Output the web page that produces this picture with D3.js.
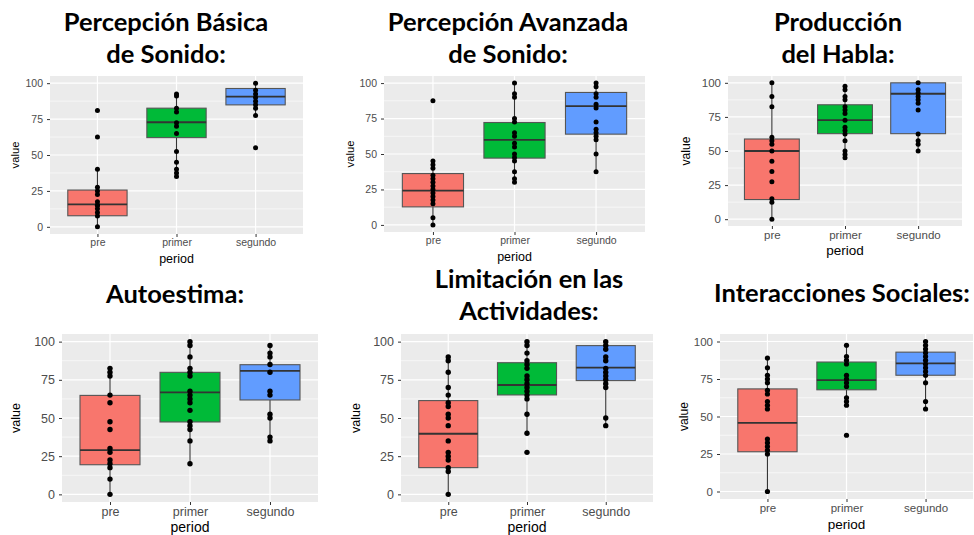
<!DOCTYPE html>
<html>
<head>
<meta charset="utf-8">
<script src="https://cdnjs.cloudflare.com/ajax/libs/d3/7.8.5/d3.min.js"></script>
<style>
body { margin: 0; background: #fff; }
svg { display: block; }
</style>
</head>
<body>
<svg id="chart" width="974" height="535"></svg>
<script>
var periods = ['pre', 'primer', 'segundo'];
var y_ticks = [0, 25, 50, 75, 100];
var y_minor = [12.5, 37.5, 62.5, 87.5];
var fills = ['#F8766D', '#00BA38', '#619CFF'];

var titles = [
    ['Percepción Básica', 'de Sonido:'],
    ['Percepción Avanzada', 'de Sonido:'],
    ['Producción', 'del Habla:'],
    ['Autoestima:'],
    ['Limitación en las', 'Actividades:'],
    ['Interacciones Sociales:']
];

// box stats per period: [whisker low, q1, median, q3, whisker high]
var basica_box = [[0, 7.7, 15.6, 25.6, 40], [35, 62.1, 72.8, 82.6, 92.5], [77.5, 84.9, 90.7, 96.3, 100]];
var avanzada_box = [[0, 12.7, 24.2, 36.2, 45], [30, 47.1, 60, 72.2, 100], [37.5, 64, 83.8, 93.4, 100]];
var habla_box = [[0, 14.4, 50, 58.8, 100], [45, 62.7, 72.7, 83.9, 97.5], [50, 62.7, 92, 100, 100]];
var autoestima_box = [[0, 19.4, 29, 64.8, 82.5], [20, 47.4, 66.8, 79.9, 100], [35, 61.8, 80.8, 84.9, 97.5]];
var limitacion_box = [[0, 17.5, 39.7, 61.4, 90], [40, 65.1, 71.6, 86.2, 100], [45, 74.5, 83, 97.4, 100]];
var sociales_box = [[0, 26.5, 45.7, 68.4, 89], [57.5, 67.8, 74.2, 86.3, 97.5], [55, 77.5, 85.4, 92.9, 100]];

// individual scores per period
var basica_pts = [
    [0, 7.5, 10, 12.5, 15, 15, 17.5, 22.5, 25, 27.5, 40, 62.5, 81],
    [35, 37.5, 40, 45, 52.5, 65, 70, 72.5, 80, 82.5, 91, 92.5],
    [55, 77.5, 82.5, 85, 87.5, 90, 92.5, 95, 100]
];
var avanzada_pts = [
    [0, 5, 15, 17.5, 20, 22.5, 25, 27.5, 30, 32.5, 35, 40, 42.5, 45, 87.5],
    [30, 32.5, 37.5, 45, 47.5, 50, 55, 57.5, 62.5, 65, 72.5, 75, 90, 92.5, 100],
    [37.5, 50, 60, 62.5, 65, 67.5, 72.5, 82.5, 85, 90, 92.5, 97.5, 100]
];
var habla_pts = [
    [0, 12.5, 15, 27.5, 35, 42.5, 50, 55, 57.5, 60, 82.5, 90, 100],
    [45, 47.5, 50, 57.5, 62.5, 65, 67.5, 72.5, 77.5, 80, 82.5, 87.5, 90, 95, 97.5],
    [50, 55, 57.5, 62.5, 80, 85, 87.5, 90, 92.5, 95, 100]
];
var autoestima_pts = [
    [0, 10, 17.5, 20, 22.5, 27.5, 30, 42.5, 47.5, 60, 65, 77.5, 80, 82.5],
    [20, 35, 42.5, 45, 47.5, 55, 60, 62.5, 65, 67.5, 77.5, 80, 82.5, 90, 97.5, 100],
    [35, 37.5, 50, 52.5, 65, 67.5, 80, 85, 90, 92.5, 97.5]
];
var limitacion_pts = [
    [0, 15, 17.5, 22.5, 25, 27.5, 35, 45, 50, 52.5, 57.5, 60, 65, 70, 80, 87.5, 90],
    [27.5, 40, 52.5, 62.5, 65, 67.5, 70, 72.5, 75, 77.5, 82.5, 85, 87.5, 92.5, 97.5, 100],
    [45, 50, 70, 72.5, 75, 77.5, 80, 82.5, 87.5, 90, 95, 97.5, 100]
];
var sociales_pts = [
    [0, 25, 27.5, 30, 32.5, 35, 55, 57.5, 60, 65, 67.5, 72.5, 75, 77.5, 82.5, 89],
    [37.5, 57.5, 60, 62.5, 70, 72.5, 75, 77.5, 85, 87.5, 90, 97.5],
    [55, 60, 72.5, 77.5, 80, 82.5, 85, 87.5, 90, 92.5, 95, 97.5, 100]
];

var boxes = [basica_box, avanzada_box, habla_box, autoestima_box, limitacion_box, sociales_box];
var points = [basica_pts, avanzada_pts, habla_pts, autoestima_pts, limitacion_pts, sociales_pts];

// where each small ggplot sits on the slide
var layout = [
    {x0: 50, x1: 303, y0: 76, y1: 234, cx: 166, ty: 31, vx: 15, tick: 10.5, lab: 12.5, pl: 29, r: 2.5},
    {x0: 384, x1: 645, y0: 76, y1: 232, cx: 508, ty: 31, vx: 350, tick: 10.5, lab: 12.5, pl: 29, r: 2.5},
    {x0: 728, x1: 962, y0: 76, y1: 226, cx: 838, ty: 31, vx: 685, tick: 11.5, lab: 13.5, pl: 29, r: 2.5},
    {x0: 62, x1: 318, y0: 334, y1: 502, cx: 175, ty: 303, vx: 15, tick: 12.5, lab: 14, pl: 30, r: 2.7},
    {x0: 401, x1: 653, y0: 334, y1: 502, cx: 529, ty: 288, vx: 355, tick: 12.5, lab: 14, pl: 30, r: 2.7},
    {x0: 720, x1: 973, y0: 334, y1: 499, cx: 842, ty: 302, vx: 683, tick: 11.5, lab: 13.5, pl: 30, r: 2.6}
];

var svg = d3.select('#chart');

var draw_panel = function(i) {
    var L = layout[i];
    var g = svg.append('g');
    var y = d3.scaleLinear().domain([-5, 105]).range([L.y1, L.y0]);
    var x = d3.scalePoint().domain(periods).range([L.x0, L.x1]).padding(0.6);
    var bw = x.step() * 0.75;

    // title
    g.append('text')
        .attr('x', L.cx).attr('y', L.ty)
        .attr('text-anchor', 'middle')
        .style('font-family', 'Lato').style('font-weight', 'bold').style('font-size', '25.5px')
        .selectAll('tspan').data(titles[i]).enter().append('tspan')
        .attr('x', L.cx).attr('dy', function(d, j) { return j ? 32 : 0; })
        .text(function(d) { return d; });

    // panel background and grid
    g.append('rect').attr('x', L.x0).attr('y', L.y0)
        .attr('width', L.x1 - L.x0).attr('height', L.y1 - L.y0).attr('fill', '#EBEBEB');
    g.selectAll('line.minor').data(y_minor).enter().append('line')
        .attr('x1', L.x0).attr('x2', L.x1)
        .attr('y1', function(d) { return y(d); }).attr('y2', function(d) { return y(d); })
        .attr('stroke', '#fff').attr('stroke-width', 0.6);
    g.selectAll('line.major').data(y_ticks).enter().append('line')
        .attr('x1', L.x0).attr('x2', L.x1)
        .attr('y1', function(d) { return y(d); }).attr('y2', function(d) { return y(d); })
        .attr('stroke', '#fff').attr('stroke-width', 1.2);
    g.selectAll('line.vgrid').data(periods).enter().append('line')
        .attr('x1', function(d) { return x(d); }).attr('x2', function(d) { return x(d); })
        .attr('y1', L.y0).attr('y2', L.y1)
        .attr('stroke', '#fff').attr('stroke-width', 1.2);

    // axes
    var ya = g.append('g').attr('transform', 'translate(' + L.x0 + ',0)')
        .call(d3.axisLeft(y).tickValues(y_ticks).tickSize(3).tickPadding(4));
    var xa = g.append('g').attr('transform', 'translate(0,' + L.y1 + ')')
        .call(d3.axisBottom(x).tickSize(3).tickPadding(2));
    [ya, xa].forEach(function(a) {
        a.select('.domain').remove();
        a.selectAll('line').attr('stroke', '#333');
        a.selectAll('text').attr('fill', '#4D4D4D')
            .style('font-family', 'Liberation Sans').style('font-size', L.tick + 'px');
    });

    g.append('text')
        .attr('x', (L.x0 + L.x1) / 2).attr('y', L.y1 + L.pl)
        .attr('text-anchor', 'middle')
        .style('font-family', 'Liberation Sans').style('font-size', L.lab + 'px')
        .text('period');
    g.append('text')
        .attr('transform', 'translate(' + (L.vx + L.lab * 0.35) + ',' + ((L.y0 + L.y1) / 2) + ') rotate(-90)')
        .attr('text-anchor', 'middle')
        .style('font-family', 'Liberation Sans').style('font-size', (L.lab * 0.9) + 'px')
        .text('value');

    // boxplots
    var bx = g.selectAll('g.box').data(boxes[i]).enter().append('g');
    bx.append('line')
        .attr('x1', function(d, j) { return x(periods[j]); }).attr('x2', function(d, j) { return x(periods[j]); })
        .attr('y1', function(d) { return y(d[0]); }).attr('y2', function(d) { return y(d[4]); })
        .attr('stroke', '#333').attr('stroke-width', 1.1);
    bx.append('rect')
        .attr('x', function(d, j) { return x(periods[j]) - bw / 2; })
        .attr('y', function(d) { return y(d[3]); })
        .attr('width', bw)
        .attr('height', function(d) { return y(d[1]) - y(d[3]); })
        .attr('fill', function(d, j) { return fills[j]; })
        .attr('stroke', '#555').attr('stroke-width', 1.1);
    bx.append('line')
        .attr('x1', function(d, j) { return x(periods[j]) - bw / 2; })
        .attr('x2', function(d, j) { return x(periods[j]) + bw / 2; })
        .attr('y1', function(d) { return y(d[2]); }).attr('y2', function(d) { return y(d[2]); })
        .attr('stroke', '#333').attr('stroke-width', 1.8);

    // points
    points[i].forEach(function(vals, j) {
        g.selectAll(null).data(vals).enter().append('circle')
            .attr('cx', x(periods[j]))
            .attr('cy', function(d) { return y(d); })
            .attr('r', L.r)
            .attr('fill', '#000');
    });
};

d3.range(6).forEach(draw_panel);
</script>
</body>
</html>
